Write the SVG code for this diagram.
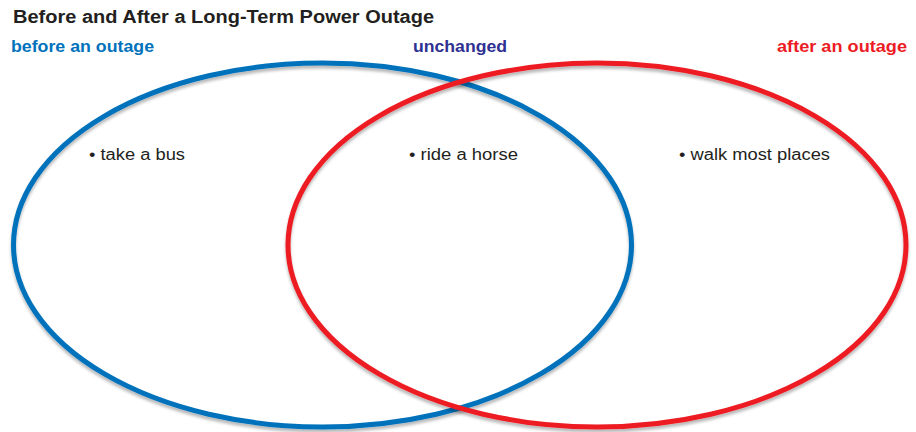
<svg xmlns="http://www.w3.org/2000/svg" width="916" height="432" viewBox="0 0 916 432">
  <defs>
    <filter id="soft" x="-5%" y="-5%" width="110%" height="115%">
      <feDropShadow dx="0" dy="3" stdDeviation="1.6" flood-color="#000" flood-opacity="0.28"/>
    </filter>
    <style>
      .title { font-family: "Liberation Sans", Arial, sans-serif; font-weight: 700; font-size: 18px; fill: #231f20; }
      .head { font-family: "Liberation Sans", Arial, sans-serif; font-weight: 700; font-size: 16px; }
      .item { font-family: "Liberation Sans", Arial, sans-serif; font-size: 16px; fill: #231f20; }
      .ring { fill: none; stroke-width: 5; filter: url(#soft); }
    </style>
  </defs>
  <rect width="916" height="432" fill="#ffffff"/>

  <text class="title" x="13" y="23" textLength="421" lengthAdjust="spacingAndGlyphs">Before and After a Long-Term Power Outage</text>

  <!-- circle outlines: the "after" ring sits on top of the "before" ring -->
  <g id="rings">
    <ellipse class="ring" cx="322.5" cy="245" rx="309" ry="182" stroke="#0072bc"/>
    <ellipse class="ring" cx="597" cy="245" rx="309" ry="182" stroke="#ed1c24"/>
  </g>

  <g id="before">
    <text class="head" x="11" y="52" fill="#0072bc" textLength="143" lengthAdjust="spacingAndGlyphs">before an outage</text>
    <text class="item" x="89" y="160" textLength="96" lengthAdjust="spacingAndGlyphs">• take a bus</text>
  </g>

  <g id="unchanged">
    <text class="head" x="413" y="52" fill="#2e3192" textLength="94" lengthAdjust="spacingAndGlyphs">unchanged</text>
    <text class="item" x="409" y="160" textLength="109" lengthAdjust="spacingAndGlyphs">• ride a horse</text>
  </g>

  <g id="after">
    <text class="head" x="777" y="52" fill="#ed1c24" textLength="130" lengthAdjust="spacingAndGlyphs">after an outage</text>
    <text class="item" x="679" y="160" textLength="151" lengthAdjust="spacingAndGlyphs">• walk most places</text>
  </g>
</svg>
